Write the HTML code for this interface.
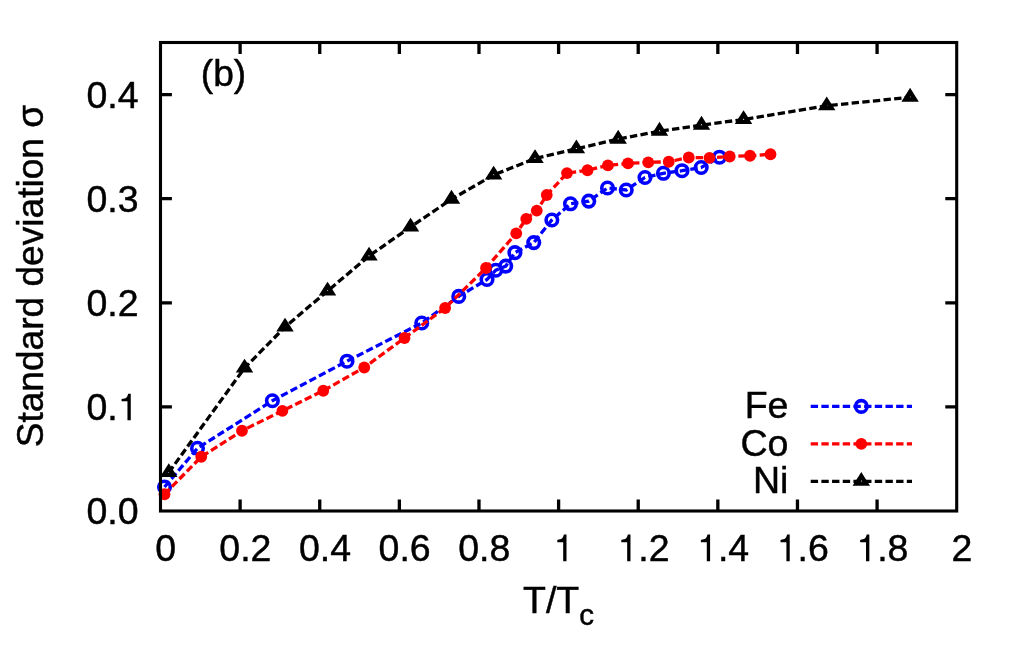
<!DOCTYPE html>
<html><head><meta charset="utf-8"><title>chart</title>
<style>
html,body{margin:0;padding:0;background:#fff;}
body{width:1024px;height:668px;overflow:hidden;}
svg{display:block;will-change:transform;transform:translateZ(0);}
text{font-family:"Liberation Sans",sans-serif;font-size:37.5px;fill:#000;stroke:#000;stroke-width:0.45px;}
.one{fill:#000;stroke:#000;stroke-width:0.45px;}
</style></head><body>
<svg width="1024" height="668" viewBox="0 0 1024 668">
<rect width="1024" height="668" fill="#fff"/>

<g fill="none" stroke="#0000ff" stroke-width="3.3">
<polyline points="164.50,487.00 197.50,448.25 272.35,400.75 347.00,361.20 421.75,323.00 458.75,296.40 487.00,279.50 495.80,270.20 505.75,266.10 514.90,252.60 533.75,242.60 551.85,220.00 570.50,203.80 588.75,201.10 607.50,188.00 626.25,190.00 645.00,177.50 663.40,173.30 682.00,170.70 701.20,167.50 719.50,157.20" stroke-dasharray="7.37 3.31"/>
<line x1="810.7" y1="406.4" x2="912" y2="406.4" stroke-dasharray="7.37 3.31"/>
<g stroke-width="3.62">
<circle cx="164.50" cy="487.00" r="5.75"/>
<circle cx="197.50" cy="448.25" r="5.75"/>
<circle cx="272.35" cy="400.75" r="5.75"/>
<circle cx="347.00" cy="361.20" r="5.75"/>
<circle cx="421.75" cy="323.00" r="5.75"/>
<circle cx="458.75" cy="296.40" r="5.75"/>
<circle cx="487.00" cy="279.50" r="5.75"/>
<circle cx="495.80" cy="270.20" r="5.75"/>
<circle cx="505.75" cy="266.10" r="5.75"/>
<circle cx="514.90" cy="252.60" r="5.75"/>
<circle cx="533.75" cy="242.60" r="5.75"/>
<circle cx="551.85" cy="220.00" r="5.75"/>
<circle cx="570.50" cy="203.80" r="5.75"/>
<circle cx="588.75" cy="201.10" r="5.75"/>
<circle cx="607.50" cy="188.00" r="5.75"/>
<circle cx="626.25" cy="190.00" r="5.75"/>
<circle cx="645.00" cy="177.50" r="5.75"/>
<circle cx="663.40" cy="173.30" r="5.75"/>
<circle cx="682.00" cy="170.70" r="5.75"/>
<circle cx="701.20" cy="167.50" r="5.75"/>
<circle cx="719.50" cy="157.20" r="5.75"/>
<circle cx="861.30" cy="406.40" r="5.75"/>
</g></g>
<g fill="none" stroke="#ff0000" stroke-width="3.3">
<polyline points="164.50,494.25 201.25,456.75 242.00,430.75 282.40,410.80 323.25,390.75 364.25,367.50 404.50,338.00 445.10,308.00 486.00,268.00 516.25,233.30 526.25,218.80 536.75,210.60 546.75,195.00 567.00,173.10 587.50,170.25 607.90,165.40 628.00,163.40 648.25,162.35 668.75,161.75 688.75,157.50 709.50,157.80 729.70,156.50 750.00,155.75 770.50,154.25" stroke-dasharray="7.37 3.31"/>
<line x1="810.7" y1="443.9" x2="912" y2="443.9" stroke-dasharray="7.37 3.31"/>
<g fill="#ff0000" stroke="none">
<circle cx="164.50" cy="494.25" r="5.9"/>
<circle cx="201.25" cy="456.75" r="5.9"/>
<circle cx="242.00" cy="430.75" r="5.9"/>
<circle cx="282.40" cy="410.80" r="5.9"/>
<circle cx="323.25" cy="390.75" r="5.9"/>
<circle cx="364.25" cy="367.50" r="5.9"/>
<circle cx="404.50" cy="338.00" r="5.9"/>
<circle cx="445.10" cy="308.00" r="5.9"/>
<circle cx="486.00" cy="268.00" r="5.9"/>
<circle cx="516.25" cy="233.30" r="5.9"/>
<circle cx="526.25" cy="218.80" r="5.9"/>
<circle cx="536.75" cy="210.60" r="5.9"/>
<circle cx="546.75" cy="195.00" r="5.9"/>
<circle cx="567.00" cy="173.10" r="5.9"/>
<circle cx="587.50" cy="170.25" r="5.9"/>
<circle cx="607.90" cy="165.40" r="5.9"/>
<circle cx="628.00" cy="163.40" r="5.9"/>
<circle cx="648.25" cy="162.35" r="5.9"/>
<circle cx="668.75" cy="161.75" r="5.9"/>
<circle cx="688.75" cy="157.50" r="5.9"/>
<circle cx="709.50" cy="157.80" r="5.9"/>
<circle cx="729.70" cy="156.50" r="5.9"/>
<circle cx="750.00" cy="155.75" r="5.9"/>
<circle cx="770.50" cy="154.25" r="5.9"/>
<circle cx="861.30" cy="443.90" r="5.9"/>
</g></g>
<g fill="none" stroke="#000" stroke-width="3.3">
<polyline points="168.75,472.50 244.50,368.00 285.00,327.00 327.50,291.00 369.00,256.00 410.50,227.00 451.50,199.20 493.60,175.00 535.00,158.50 576.40,148.80 618.20,139.10 659.50,131.10 701.50,125.10 743.50,119.50 826.75,105.80 910.10,97.20" stroke-dasharray="7.37 3.31"/>
<line x1="810.7" y1="481.3" x2="912" y2="481.3" stroke-dasharray="7.37 3.31"/>
<g stroke-linejoin="miter" stroke-miterlimit="10" stroke-width="4.4">
<path d="M168.75 467.27 L173.50 474.85 L164.00 474.85 Z"/>
<path d="M244.50 362.77 L249.25 370.35 L239.75 370.35 Z"/>
<path d="M285.00 321.77 L289.75 329.35 L280.25 329.35 Z"/>
<path d="M327.50 285.77 L332.25 293.35 L322.75 293.35 Z"/>
<path d="M369.00 250.77 L373.75 258.35 L364.25 258.35 Z"/>
<path d="M410.50 221.77 L415.25 229.35 L405.75 229.35 Z"/>
<path d="M451.50 193.97 L456.25 201.55 L446.75 201.55 Z"/>
<path d="M493.60 169.77 L498.35 177.35 L488.85 177.35 Z"/>
<path d="M535.00 153.27 L539.75 160.85 L530.25 160.85 Z"/>
<path d="M576.40 143.57 L581.15 151.15 L571.65 151.15 Z"/>
<path d="M618.20 133.87 L622.95 141.45 L613.45 141.45 Z"/>
<path d="M659.50 125.87 L664.25 133.45 L654.75 133.45 Z"/>
<path d="M701.50 119.87 L706.25 127.45 L696.75 127.45 Z"/>
<path d="M743.50 114.27 L748.25 121.85 L738.75 121.85 Z"/>
<path d="M826.75 100.57 L831.50 108.15 L822.00 108.15 Z"/>
<path d="M910.10 91.97 L914.85 99.55 L905.35 99.55 Z"/>
<path d="M861.30 476.07 L866.05 483.65 L856.55 483.65 Z"/>
</g></g>
<g fill="none" stroke="#000" stroke-width="3.1">
<rect x="160.5" y="42.5" width="796.20" height="468.50"/>
<path stroke-width="3.3" d="M240.12 511.0 v-11.4 M240.12 42.5 v11.4"/>
<path stroke-width="3.3" d="M319.74 511.0 v-11.4 M319.74 42.5 v11.4"/>
<path stroke-width="3.3" d="M399.36 511.0 v-11.4 M399.36 42.5 v11.4"/>
<path stroke-width="3.3" d="M478.98 511.0 v-11.4 M478.98 42.5 v11.4"/>
<path stroke-width="3.3" d="M558.60 511.0 v-11.4 M558.60 42.5 v11.4"/>
<path stroke-width="3.3" d="M638.22 511.0 v-11.4 M638.22 42.5 v11.4"/>
<path stroke-width="3.3" d="M717.84 511.0 v-11.4 M717.84 42.5 v11.4"/>
<path stroke-width="3.3" d="M797.46 511.0 v-11.4 M797.46 42.5 v11.4"/>
<path stroke-width="3.3" d="M877.08 511.0 v-11.4 M877.08 42.5 v11.4"/>
<path stroke-width="3.3" d="M160.5 406.89 h11.4 M956.7 406.89 h-11.4"/>
<path stroke-width="3.3" d="M160.5 302.78 h11.4 M956.7 302.78 h-11.4"/>
<path stroke-width="3.3" d="M160.5 198.67 h11.4 M956.7 198.67 h-11.4"/>
<path stroke-width="3.3" d="M160.5 94.56 h11.4 M956.7 94.56 h-11.4"/>
</g>
<text x="165.80" y="561.2" text-anchor="middle">0</text>
<text x="245.42" y="561.2" text-anchor="middle">0.2</text>
<text x="325.04" y="561.2" text-anchor="middle">0.4</text>
<text x="404.66" y="561.2" text-anchor="middle">0.6</text>
<text x="484.28" y="561.2" text-anchor="middle">0.8</text>
<path class="one" transform="translate(553.48,561.20) scale(0.03750,-0.03750)" d="M259 0V505H102V568C226 584 250 602 278 709H347V0Z"/>
<path class="one" transform="translate(617.46,561.20) scale(0.03750,-0.03750)" d="M259 0V505H102V568C226 584 250 602 278 709H347V0Z"/>
<text x="638.31" y="561.2">.2</text>
<path class="one" transform="translate(697.08,561.20) scale(0.03750,-0.03750)" d="M259 0V505H102V568C226 584 250 602 278 709H347V0Z"/>
<text x="717.93" y="561.2">.4</text>
<path class="one" transform="translate(776.70,561.20) scale(0.03750,-0.03750)" d="M259 0V505H102V568C226 584 250 602 278 709H347V0Z"/>
<text x="797.55" y="561.2">.6</text>
<path class="one" transform="translate(856.32,561.20) scale(0.03750,-0.03750)" d="M259 0V505H102V568C226 584 250 602 278 709H347V0Z"/>
<text x="877.17" y="561.2">.8</text>
<text x="962.00" y="561.2" text-anchor="middle">2</text>
<text x="138.6" y="524.40" text-anchor="end">0.0</text>
<text x="117.75" y="420.29" text-anchor="end">0.</text>
<path class="one" transform="translate(117.75,420.29) scale(0.03750,-0.03750)" d="M259 0V505H102V568C226 584 250 602 278 709H347V0Z"/>
<text x="138.6" y="316.18" text-anchor="end">0.2</text>
<text x="138.6" y="212.07" text-anchor="end">0.3</text>
<text x="138.6" y="107.96" text-anchor="end">0.4</text>
<text x="200.8" y="86" style="font-size:37.2px">(b)</text>
<text x="523" y="613.2">T/T<tspan font-size="29.6px" dy="11.9">c</tspan></text>
<text transform="translate(43,447.3) rotate(-90)" style="font-size:37.1px">Standard deviation σ</text>
<text x="788.4" y="418.2" text-anchor="end">Fe</text>
<text x="788.4" y="455.7" text-anchor="end">Co</text>
<text x="788.4" y="493.1" text-anchor="end">Ni</text>
</svg></body></html>
